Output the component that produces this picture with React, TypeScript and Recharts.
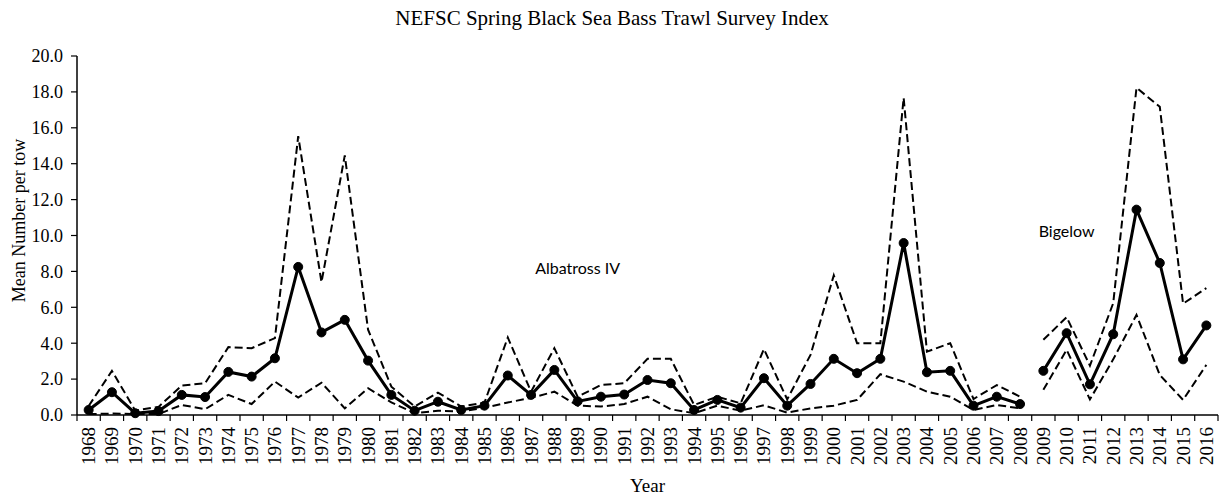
import React from 'react'
import { LineChart, Line, XAxis, YAxis, ReferenceDot } from 'recharts'

const years = [
  '1968', '1969', '1970', '1971', '1972', '1973', '1974', '1975', '1976', '1977',
  '1978', '1979', '1980', '1981', '1982', '1983', '1984', '1985', '1986', '1987',
  '1988', '1989', '1990', '1991', '1992', '1993', '1994', '1995', '1996', '1997',
  '1998', '1999', '2000', '2001', '2002', '2003', '2004', '2005', '2006', '2007',
  '2008', '2009', '2010', '2011', '2012', '2013', '2014', '2015', '2016',
]

// Albatross IV, 1968-2008
const albMean = [
  0.28, 1.27, 0.1, 0.22, 1.12, 1.0, 2.4, 2.14, 3.16, 8.25,
  4.6, 5.3, 3.03, 1.12, 0.24, 0.74, 0.28, 0.52, 2.2, 1.12,
  2.51, 0.76, 1.02, 1.14, 1.95, 1.77, 0.28, 0.84, 0.41, 2.05,
  0.52, 1.73, 3.13, 2.33, 3.13, 9.58, 2.38, 2.46, 0.52, 1.02,
  0.61,
]
const albUpper = [
  0.5, 2.46, 0.25, 0.45, 1.64, 1.77, 3.78, 3.72, 4.28, 15.53,
  7.4, 14.46, 4.75, 1.58, 0.47, 1.25, 0.47, 0.69, 4.32, 1.3,
  3.72, 1.02, 1.67, 1.77, 3.13, 3.13, 0.56, 1.02, 0.65, 3.67,
  0.87, 3.35, 7.78, 4.0, 4.0, 17.67, 3.53, 4.0, 0.89, 1.67,
  1.02,
]
const albLower = [
  0.05, 0.08, 0.05, 0.05, 0.56, 0.32, 1.12, 0.61, 1.86, 0.97,
  1.8, 0.37, 1.49, 0.7, 0.1, 0.24, 0.19, 0.4, 0.7, 0.95,
  1.3, 0.52, 0.47, 0.61, 1.02, 0.32, 0.1, 0.52, 0.24, 0.54,
  0.13, 0.37, 0.52, 0.84, 2.27, 1.86, 1.3, 1.02, 0.28, 0.56,
  0.37,
]

// Bigelow, 2009-2016
const bigMean = [2.46, 4.56, 1.71, 4.5, 11.44, 8.47, 3.1, 4.99]
const bigUpper = [4.19, 5.45, 2.75, 6.23, 18.23, 17.17, 6.2, 7.07]
const bigLower = [1.4, 3.63, 0.87, 3.1, 5.58, 2.23, 0.84, 2.79]

const yTicks = [0, 2, 4, 6, 8, 10, 12, 14, 16, 18, 20]

const data = years.map((year, i) => {
  const alb = i < albMean.length
  const j = i - albMean.length
  return {
    year,
    aMean: alb ? albMean[i] : null,
    aUpper: alb ? albUpper[i] : null,
    aLower: alb ? albLower[i] : null,
    bMean: alb ? null : bigMean[j],
    bUpper: alb ? null : bigUpper[j],
    bLower: alb ? null : bigLower[j],
  }
})

const SERIF = '"Liberation Serif", "Times New Roman", serif'
const PLOT_LEFT = 77
const PLOT_RIGHT = 1218
const BW = (PLOT_RIGHT - PLOT_LEFT) / years.length

function YearTick(props: any) {
  const { x, y, payload, index } = props
  const last = index === years.length - 1
  const ty = y + 12
  return (
    <g>
      <line x1={x - BW / 2} x2={x - BW / 2} y1={y} y2={y + 6} stroke="#000" strokeWidth={1.2} />
      {last && <line x1={x + BW / 2} x2={x + BW / 2} y1={y} y2={y + 6} stroke="#000" strokeWidth={1.2} />}
      <text
        x={x}
        y={ty}
        transform={`rotate(-90 ${x} ${ty})`}
        textAnchor="end"
        dominantBaseline="central"
        fontSize={19}
        fontFamily={SERIF}
        fill="#000"
      >
        {payload.value}
      </text>
    </g>
  )
}

function YLabel(props: any) {
  const vb = props.viewBox
  const cy = vb.y + vb.height / 2 - 15
  return (
    <text
      x={19}
      y={cy}
      transform={`rotate(-90 19 ${cy})`}
      textAnchor="middle"
      dominantBaseline="central"
      fontSize={18}
      fontFamily={SERIF}
      fill="#000"
    >
      Mean Number per tow
    </text>
  )
}

function Note(text: string) {
  return (props: any) => {
    const vb = props.viewBox
    return (
      <text
        x={vb.x}
        y={vb.y}
        textAnchor="middle"
        dominantBaseline="central"
        fontSize={16}
        fontFamily="Lato, sans-serif"
        fill="#000"
      >
        {text}
      </text>
    )
  }
}

const dashed = { stroke: '#000', strokeWidth: 2, strokeDasharray: '8 4', dot: false, isAnimationActive: false }
const solid = {
  stroke: '#000',
  strokeWidth: 3,
  dot: { r: 4.5, fill: '#000', stroke: '#000', strokeWidth: 1 },
  activeDot: false,
  isAnimationActive: false,
}

export default function App() {
  return (
    <div style={{ position: 'fixed', left: 0, top: 0, width: 1224, height: 499, background: '#fff' }}>
      <div
        style={{
          position: 'absolute', top: 8, left: 0, width: 1224, textAlign: 'center',
          fontFamily: SERIF, fontSize: 21, lineHeight: '21px', color: '#000',
        }}
      >
        NEFSC Spring Black Sea Bass Trawl Survey Index
      </div>
      <div style={{ position: 'absolute', left: 0, top: 0 }}>
        <LineChart width={1224} height={499} data={data} margin={{ top: 56, right: 1224 - PLOT_RIGHT, bottom: 0, left: 0 }}>
          <XAxis
            dataKey="year"
            interval={0}
            height={84}
            padding={{ left: BW / 2, right: BW / 2 }}
            tick={<YearTick />}
            tickLine={false}
            tickSize={0}
            tickMargin={0}
            axisLine={{ stroke: '#000', strokeWidth: 1.5 }}
            label={{ value: 'Year', position: 'insideBottom', offset: 7, fontSize: 19, fontFamily: SERIF, fill: '#000' }}
          />
          <YAxis
            width={PLOT_LEFT}
            domain={[0, 20]}
            ticks={yTicks}
            interval={0}
            tickFormatter={(v: number) => v.toFixed(1)}
            tick={{ fill: '#000', fontSize: 18, fontFamily: SERIF }}
            tickSize={6}
            tickMargin={8}
            tickLine={{ stroke: '#000', strokeWidth: 1.2 }}
            axisLine={{ stroke: '#000', strokeWidth: 1.5 }}
            label={<YLabel />}
          />
          <Line dataKey="aUpper" {...dashed} />
          <Line dataKey="aLower" {...dashed} />
          <Line dataKey="bUpper" {...dashed} />
          <Line dataKey="bLower" {...dashed} />
          <Line dataKey="aMean" {...solid} />
          <Line dataKey="bMean" {...solid} />
          <ReferenceDot x="1989" y={8.2} r={0} stroke="none" label={{ content: Note('Albatross IV') }} />
          <ReferenceDot x="2010" y={10.3} r={0} stroke="none" label={{ content: Note('Bigelow') }} />
        </LineChart>
      </div>
    </div>
  )
}
